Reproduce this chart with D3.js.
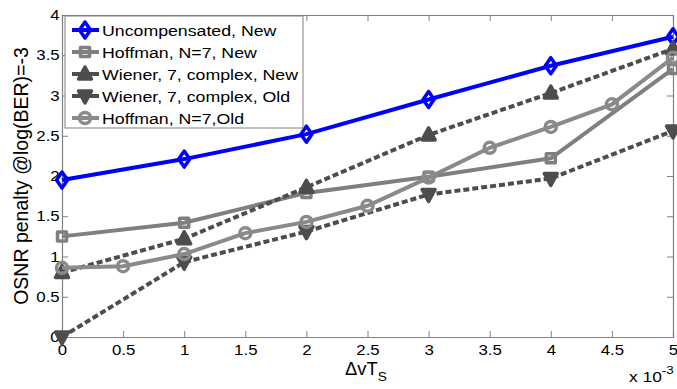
<!DOCTYPE html>
<html lang="en">
<head>
    <meta charset="utf-8"/>
    <title>OSNR penalty</title>
    <script src="https://d3js.org/d3.v7.min.js"></script>
    <style>
        body { margin: 0; background: #fff; }
        text { font-family: "Liberation Sans", Arial, sans-serif; }
    </style>
</head>
<body>
<script>
    // values
    const xFull = [0, 1, 2, 3, 4, 5];
    const xFine = [0, 0.5, 1, 1.5, 2, 2.5, 3, 3.5, 4, 4.5, 5];
    const uncompNew = [1.95, 2.21, 2.52, 2.95, 3.37, 3.73];
    const hoffNew = [1.25, 1.42, 1.79, 1.99, 2.22, 3.33];
    const wienerNew = [0.8, 1.22, 1.86, 2.51, 3.03, 3.58];
    const wienerOld = [0.0, 0.93, 1.31, 1.77, 1.97, 2.56];
    const hoffOld = [0.86, 0.88, 1.03, 1.29, 1.43, 1.63, 1.98, 2.35, 2.61, 2.89, 3.47];
    const xTicks = [0, 0.5, 1, 1.5, 2, 2.5, 3, 3.5, 4, 4.5, 5];
    const yTicks = [0, 0.5, 1, 1.5, 2, 2.5, 3, 3.5, 4];

    const series = [
        {name: "Uncompensated, New", xs: xFull, ys: uncompNew, color: "#0000ff", dash: null, marker: "diamond"},
        {name: "Hoffman, N=7, New", xs: xFull, ys: hoffNew, color: "#7f7f7f", dash: null, marker: "square"},
        {name: "Wiener, 7, complex, New", xs: xFull, ys: wienerNew, color: "#4d4d4d", dash: "6,3", marker: "up"},
        {name: "Wiener, 7, complex, Old", xs: xFull, ys: wienerOld, color: "#4d4d4d", dash: "6,3", marker: "down"},
        {name: "Hoffman, N=7,Old", xs: xFine, ys: hoffOld, color: "#8a8a8a", dash: null, marker: "circle"}
    ];

    const W = 677, H = 389;
    const m = {left: 62, right: 4, top: 15, bottom: 52};
    const stretch = "scale(1.16,1)"; // the original picture is a bit wider than tall

    const svg = d3.select("body").append("svg")
        .attr("width", W)
        .attr("height", H);

    const x = d3.scaleLinear().domain([0, 5]).range([m.left, W - m.right]);
    const y = d3.scaleLinear().domain([0, 4]).range([H - m.bottom, m.top]);

    // axes box with inward ticks on all sides
    const axisColor = "#808080";
    const gx = svg.append("g").attr("transform", `translate(0,${y(0)})`)
        .call(d3.axisBottom(x).tickValues(xTicks).tickSize(-6).tickPadding(8).tickFormat(d3.format("")));
    const gxTop = svg.append("g").attr("transform", `translate(0,${y(4)})`)
        .call(d3.axisTop(x).tickValues(xTicks).tickSize(-6).tickFormat(""));
    const gy = svg.append("g").attr("transform", `translate(${x(0)},0)`)
        .call(d3.axisLeft(y).tickValues(yTicks).tickSize(-6).tickPadding(2).tickFormat(d3.format("")));
    const gyRight = svg.append("g").attr("transform", `translate(${x(5)},0)`)
        .call(d3.axisRight(y).tickValues(yTicks).tickSize(-6).tickFormat(""));

    [gx, gxTop, gy, gyRight].forEach(g => {
        g.select(".domain").attr("stroke", axisColor).attr("stroke-width", 1.2);
        g.selectAll(".tick line").attr("stroke", axisColor);
        g.selectAll(".tick text").attr("fill", "#000").style("font-size", "14.5px")
            .attr("transform", stretch)
            .style("font-family", '"Liberation Sans", Arial, sans-serif');
    });

    // markers
    function markerPath(type) {
        switch (type) {
            case "diamond": return "M0,-8L5.5,0L0,8L-5.5,0Z";
            case "square": return "M-4.5,-4.5H4.5V4.5H-4.5Z";
            case "up": return "M0,-7L6.5,5L-6.5,5Z";
            case "down": return "M0,7L6.5,-5L-6.5,-5Z";
            default: return null;
        }
    }

    function drawMarker(g, type, color) {
        if (type === "circle") {
            g.append("circle").attr("r", 5.5)
                .attr("fill", "none").attr("stroke", color).attr("stroke-width", 3.5);
        } else {
            const filled = type === "up" || type === "down";
            g.append("path").attr("d", markerPath(type))
                .attr("fill", filled ? color : "none")
                .attr("stroke", color).attr("stroke-width", 3.5)
                .attr("stroke-linejoin", "round");
        }
    }

    const line = d3.line().x(d => x(d[0])).y(d => y(d[1]));

    series.forEach(s => {
        const pts = s.xs.map((v, i) => [v, s.ys[i]]);
        svg.append("path").datum(pts)
            .attr("d", line)
            .attr("fill", "none")
            .attr("stroke", s.color)
            .attr("stroke-width", 4)
            .attr("stroke-dasharray", s.dash);
        pts.forEach(p => {
            const g = svg.append("g").attr("transform", `translate(${x(p[0])},${y(p[1])})`);
            drawMarker(g, s.marker, s.color);
        });
    });

    // legend
    const lg = svg.append("g").attr("transform", "translate(65,16)");
    lg.append("rect").attr("width", 238).attr("height", 112)
        .attr("fill", "#fff").attr("stroke", axisColor).attr("stroke-width", 1);
    series.forEach((s, i) => {
        const yy = 14 + i * 22;
        lg.append("line").attr("x1", 7).attr("x2", 34).attr("y1", yy).attr("y2", yy)
            .attr("stroke", s.color).attr("stroke-width", 4);
        const g = lg.append("g").attr("transform", `translate(20,${yy})`);
        drawMarker(g, s.marker, s.color);
        lg.append("text").attr("transform", `translate(37,${yy + 6}) ${stretch}`)
            .style("font-size", "15.3px").text(s.name);
    });

    // axis labels
    svg.append("text")
        .attr("transform", `translate(28,${(m.top + H - m.bottom) / 2}) rotate(-90)`)
        .attr("text-anchor", "middle")
        .style("font-size", "19.5px")
        .text("OSNR penalty @log(BER)=-3");

    const xl = svg.append("text")
        .attr("transform", `translate(345,375) scale(1.05,1)`)
        .style("font-size", "17.5px");
    xl.append("tspan").text("\u0394vT");
    xl.append("tspan").attr("dy", 6).style("font-size", "13px").text("S");

    const ex = svg.append("text")
        .attr("transform", `translate(629,382) ${stretch}`)
        .style("font-size", "15px");
    ex.append("tspan").text("x 10");
    ex.append("tspan").attr("dy", -8).style("font-size", "11.5px").text("-3");
</script>
</body>
</html>
